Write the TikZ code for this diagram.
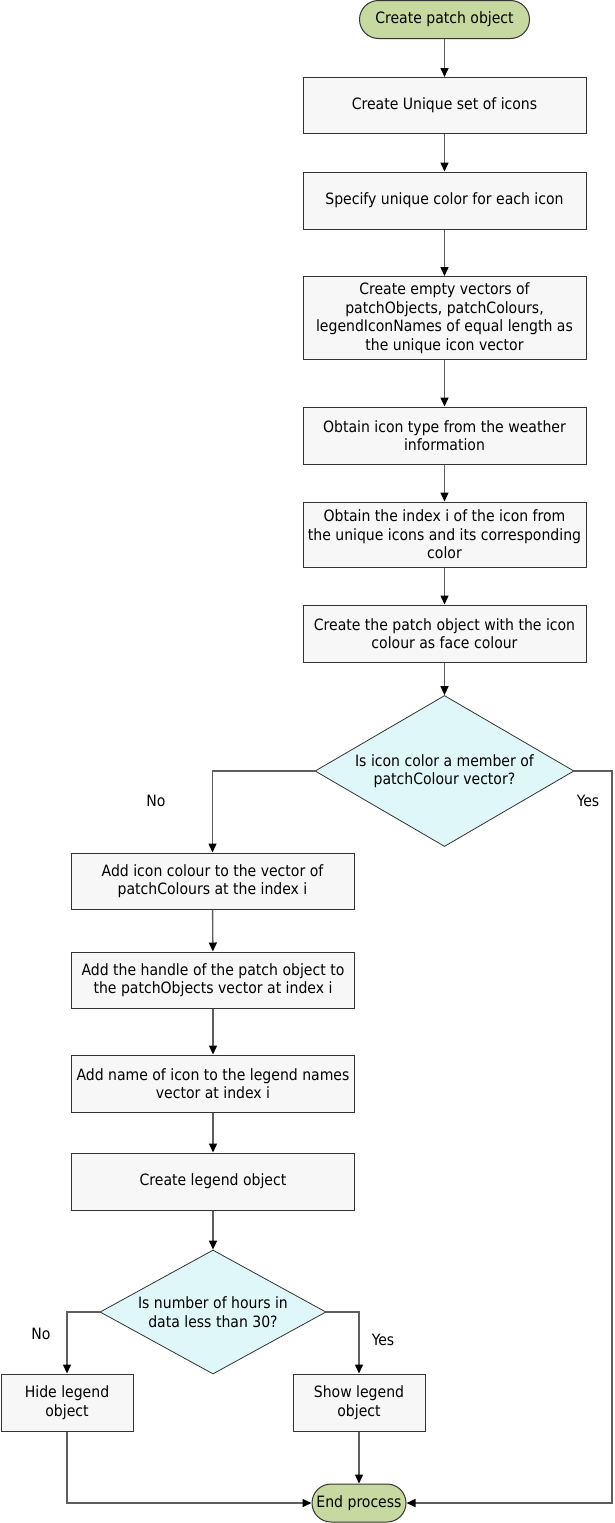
\documentclass[tikz,border=0pt]{standalone}
\usepackage{fontspec}
\setmainfont{DejaVu Sans Condensed}
\usetikzlibrary{shapes.geometric,arrows.meta}

\definecolor{boxfill}{HTML}{F7F7F7}
\definecolor{boxline}{HTML}{333333}
\definecolor{termfill}{HTML}{C6D9A0}
\definecolor{decfill}{HTML}{E0F7FA}
\definecolor{wire}{HTML}{5E5E5E}

\tikzset{
  every node/.style={font=\fontsize{15.6}{18.5}\selectfont, text=black},
  procbox/.style={draw=boxline, fill=boxfill, line width=1pt, rectangle,
    minimum width=283pt, inner sep=0pt, align=center},
  termbox/.style={draw=boxline, fill=termfill, line width=1pt, rectangle,
    rounded corners=19pt, minimum height=38pt, inner sep=0pt, align=center},
  decbox/.style={draw=boxline, fill=decfill, line width=0.8pt, diamond,
    inner sep=0pt, align=center},
  flow/.style={draw=wire, line width=1.4pt,
    -{Triangle[length=9pt,width=8pt,color=black]}},
  tag/.style={inner sep=0pt}
}

\begin{document}
\begin{tikzpicture}[x=1pt,y=-1pt]
\useasboundingbox (0,0) rectangle (615,1523);

% main column
\node[termbox, minimum width=170pt] (start) at (444.5,19.5) {Create patch object};
\node[procbox, minimum height=56pt] (b1) at (444.5,105.5) {Create Unique set of icons};
\node[procbox, minimum height=57pt] (b2) at (444.5,200.5) {Specify unique color for each icon};
\node[procbox, minimum height=83pt] (b3) at (444.5,318) {Create empty vectors of\\patchObjects, patchColours,\\legendIconNames of equal length as\\the unique icon vector};
\node[procbox, minimum height=57pt] (b4) at (444.5,435.5) {Obtain icon type from the weather\\information};
\node[procbox, minimum height=65pt] (b5) at (444.5,534.5) {Obtain the index i of the icon from\\the unique icons and its corresponding\\color};
\node[procbox, minimum height=57pt] (b6) at (444.5,633.5) {Create the patch object with the icon\\colour as face colour};
\node[decbox, shape aspect=1.715, minimum width=259pt, minimum height=151pt] (d1) at (444.5,771) {Is icon color a member of\\patchColour vector?};

% left column
\node[procbox, minimum height=56pt] (b7) at (212.5,881) {Add icon colour to the vector of\\patchColours at the index i};
\node[procbox, minimum height=56pt] (b8) at (213,980) {Add the handle of the patch object to\\the patchObjects vector at index i};
\node[procbox, minimum height=57pt] (b9) at (213,1083.5) {Add name of icon to the legend names\\vector at index i};
\node[procbox, minimum height=57pt] (b10) at (213,1181.5) {Create legend object};
\node[decbox, shape aspect=1.82, minimum width=226pt, minimum height=124pt] (d2) at (213,1312) {Is number of hours in\\data less than 30?};

% outcomes
\node[procbox, minimum width=132pt, minimum height=57pt] (hide) at (67,1402.5) {Hide legend\\object};
\node[procbox, minimum width=132pt, minimum height=57pt] (show) at (359,1402.5) {Show legend\\object};
\node[termbox, minimum width=94pt] (stop) at (359,1503) {End process};

% branch labels
\node[tag] (no1) at (156,801) {No};
\node[tag] (yes1) at (588,801) {Yes};
\node[tag] (no2) at (41,1334) {No};
\node[tag] (yes2) at (383,1340) {Yes};

\coordinate (rail) at (612,0);

% connectors
\draw[flow] (start) -- (b1);
\draw[flow] (b1) -- (b2);
\draw[flow] (b2) -- (b3);
\draw[flow] (b3) -- (b4);
\draw[flow] (b4) -- (b5);
\draw[flow] (b5) -- (b6);
\draw[flow] (b6) -- (d1);
\draw[flow] (d1.west) -| (b7.north);
\draw[flow] (d1.east) -- (d1.east -| rail) |- (stop.east);
\draw[flow] (b7) -- (b8);
\draw[flow] (b8) -- (b9);
\draw[flow] (b9) -- (b10);
\draw[flow] (b10) -- (d2);
\draw[flow] (d2.west) -| (hide.north);
\draw[flow] (d2.east) -| (show.north);
\draw[flow] (hide.south) |- (stop.west);
\draw[flow] (show) -- (stop);
\end{tikzpicture}
\end{document}
